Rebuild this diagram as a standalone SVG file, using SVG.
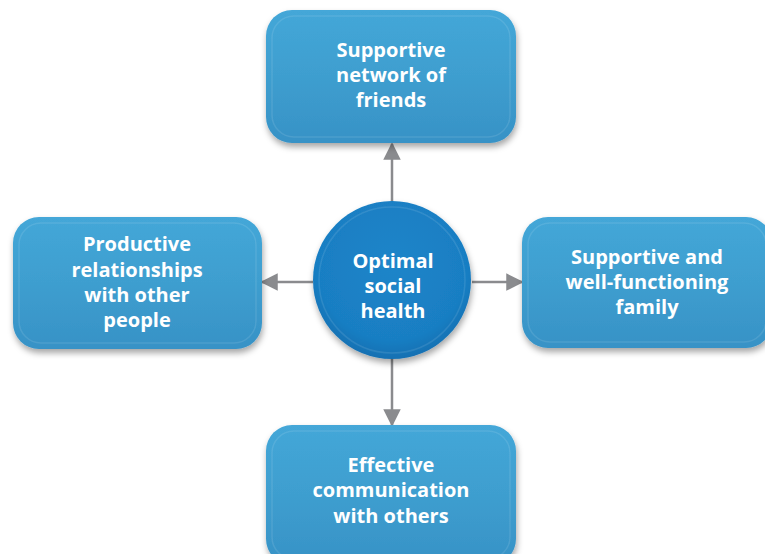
<svg xmlns="http://www.w3.org/2000/svg" width="765" height="554" viewBox="0 0 765 554">
<defs>
<linearGradient id="boxg" x1="0" y1="0" x2="0" y2="1">
<stop offset="0" stop-color="#44a7d8"/>
<stop offset="0.5" stop-color="#3e9ecf"/>
<stop offset="1" stop-color="#3792c6"/>
</linearGradient>
<radialGradient id="circg" cx="0.5" cy="0.4" r="0.6">
<stop offset="0" stop-color="#1d85c9"/>
<stop offset="0.8" stop-color="#197ec3"/>
<stop offset="1" stop-color="#1470b2"/>
</radialGradient>
<filter id="sh" x="-10%" y="-10%" width="120%" height="130%">
<feDropShadow dx="1" dy="4" stdDeviation="3" flood-color="#000" flood-opacity="0.35"/>
</filter>
<marker id="ah" viewBox="0 0 10 10" refX="9" refY="5" markerWidth="7" markerHeight="7" orient="auto-start-reverse" markerUnits="strokeWidth">
<path d="M0,0 L10,5 L0,10 z" fill="#8a8b8e"/>
</marker>
<style>
.box{fill:url(#boxg);filter:url(#sh);}
.circ{fill:url(#circg);filter:url(#sh);}
.hl{fill:none;stroke:#ffffff;stroke-opacity:0.1;stroke-width:1.5;}
.lbl{font-family:"Open Sans","Liberation Sans",sans-serif;font-weight:bold;font-size:20px;fill:#ffffff;text-anchor:middle;}
.conn{stroke:#8a8b8e;stroke-width:2.5;fill:none;marker-end:url(#ah);}
</style>
</defs>
<rect width="765" height="554" fill="#ffffff"/>
<g id="connectors">
<line class="conn" x1="392" y1="202" x2="392" y2="144"/>
<line class="conn" x1="313" y1="282" x2="262" y2="282"/>
<line class="conn" x1="472" y1="282" x2="522" y2="282"/>
<line class="conn" x1="392" y1="358" x2="392" y2="425"/>
</g>
<g id="node-top">
<rect class="box" x="266" y="10" width="250" height="133" rx="26"/>
<rect class="hl" x="272" y="16" width="238" height="121" rx="22"/>
<text class="lbl" x="391" y="57">Supportive</text>
<text class="lbl" x="391" y="82">network of</text>
<text class="lbl" x="391" y="107">friends</text>
</g>
<g id="node-left">
<rect class="box" x="13" y="217" width="249" height="132" rx="26"/>
<rect class="hl" x="19" y="223" width="237" height="120" rx="22"/>
<text class="lbl" x="137" y="251">Productive</text>
<text class="lbl" x="137" y="277">relationships</text>
<text class="lbl" x="137" y="302">with other</text>
<text class="lbl" x="137" y="327">people</text>
</g>
<g id="node-right">
<rect class="box" x="522" y="217" width="250" height="131" rx="26"/>
<rect class="hl" x="528" y="223" width="238" height="119" rx="22"/>
<text class="lbl" x="647" y="264">Supportive and</text>
<text class="lbl" x="647" y="289">well-functioning</text>
<text class="lbl" x="647" y="314">family</text>
</g>
<g id="node-bottom">
<rect class="box" x="266" y="425" width="250" height="140" rx="26"/>
<rect class="hl" x="272" y="431" width="238" height="128" rx="22"/>
<text class="lbl" x="391" y="472">Effective</text>
<text class="lbl" x="391" y="497">communication</text>
<text class="lbl" x="391" y="523">with others</text>
</g>
<g id="node-center">
<circle class="circ" cx="392" cy="280" r="79"/>
<circle class="hl" cx="392" cy="280" r="73"/>
<text class="lbl" x="393" y="268">Optimal</text>
<text class="lbl" x="393" y="293">social</text>
<text class="lbl" x="393" y="318">health</text>
</g>
</svg>
